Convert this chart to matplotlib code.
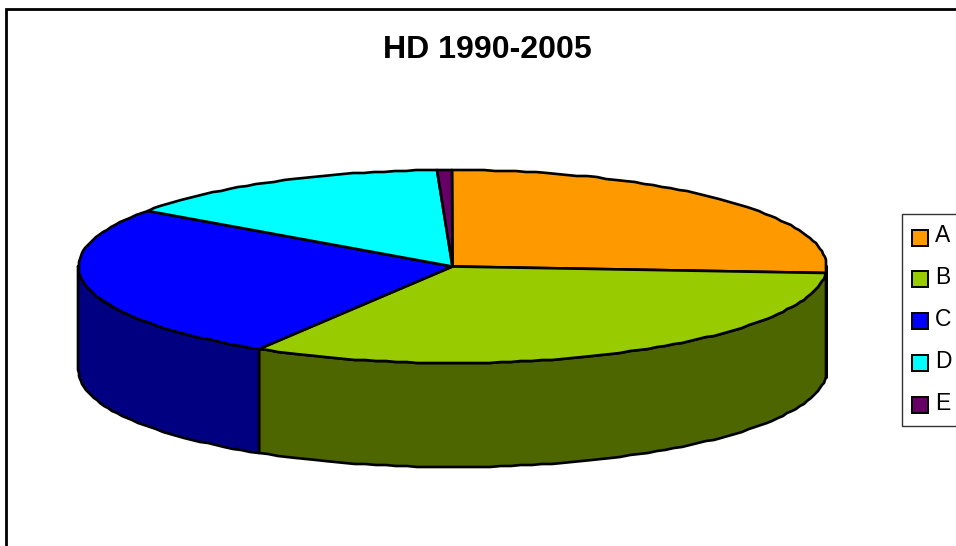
import numpy as np
import matplotlib
matplotlib.use("Agg")
import matplotlib.pyplot as plt
from matplotlib.patches import Polygon, Rectangle

plt.rcParams['font.family'] = ['Liberation Sans', 'DejaVu Sans']

categorias = ['A', 'B', 'C', 'D', 'E']
valores = [26.1, 32.54, 26.19, 14.53, 0.64]
colores = ['#ff9900', '#99cc00', '#0000ff', '#00ffff', '#660066']
colores_lado = ['#804d00', '#4d6600', '#000080', '#008080', '#330033']

# geometria del pastel en pixeles
cx, cy = 452.5, 266.5
rx, ry = 374, 96.5
alto = 104
lw = 1.9

fig = plt.figure(figsize=(9.56, 5.46), dpi=100)
ax = fig.add_axes([0, 0, 1, 1])
ax.set_xlim(0, 956)
ax.set_ylim(546, 0)
ax.axis('off')

# marco exterior, se sale de la imagen por abajo y a la derecha
ax.add_patch(Rectangle((6.5, 8.5), 1000, 600, fc='white', ec='black', lw=2))
ax.text(487.5, 49.5, 'HD 1990-2005', fontsize=23.1, fontweight='bold', ha='center', va='center')


def borde(a0, a1):
    # a en grados, en sentido horario desde arriba
    n = max(2, int(abs(a1 - a0) / 1.6) + 1)
    t = np.radians(np.linspace(a0, a1, n))
    x = cx + rx * np.sin(t)
    y = cy - ry * np.cos(t)
    # redondeo para el borde algo dentado del original
    return np.column_stack([np.round(x), np.round(y)])


fin = np.cumsum(valores) / sum(valores) * 360
ini = np.concatenate([[0], fin[:-1]])

# primero los lados visibles
for a0, a1, c in zip(ini, fin, colores_lado):
    v0, v1 = max(a0, 90), min(a1, 270)
    if v1 <= v0:
        continue
    arco = borde(v0, v1)
    abajo = arco[::-1] + [0, alto]
    ax.add_patch(Polygon(np.vstack([arco, abajo]), closed=True, fc=c, ec='black', lw=lw, joinstyle='round'))

# luego las caras de arriba
for a0, a1, c in zip(ini, fin, colores):
    pts = np.vstack([[cx, cy], borde(a0, a1)])
    ax.add_patch(Polygon(pts, closed=True, fc=c, ec='black', lw=lw, joinstyle='round'))

# leyenda
ax.add_patch(Rectangle((902.5, 213.5), 100, 212, fc='white', ec='#333333', lw=1))
for i, (nom, c) in enumerate(zip(categorias, colores)):
    y = 236 + i * 41.8
    ax.add_patch(Rectangle((912.5, y - 6.5), 16, 16, fc=c, ec='black', lw=1.4))
    ax.text(935, y, nom, fontsize=16.5, ha='left', va='center')

fig.savefig('out.png', dpi=100)
